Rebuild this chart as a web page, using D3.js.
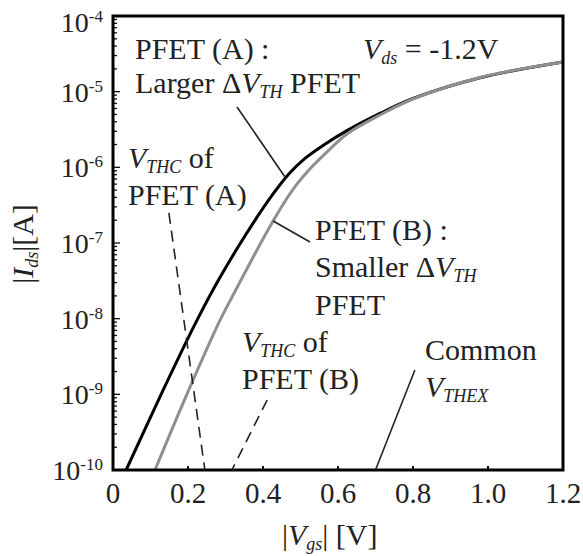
<!DOCTYPE html>
<html>
<head>
<meta charset="utf-8">
<script src="https://cdn.jsdelivr.net/npm/d3@7"></script>
<style>
  body { margin: 0; background: #fff; }
  svg text { font-family: "Liberation Serif", Tinos, "Times New Roman", Times, "DejaVu Serif", serif; fill: #222; }
</style>
</head>
<body>
<svg id="chart" width="583" height="556"></svg>
<script>
// |Vgs| sweep points [V] and drain current |Ids| [A] for each device
const vgsA = [0.035, 0.128, 0.216, 0.272, 0.331, 0.379, 0.424, 0.467, 0.512, 0.565, 0.624, 0.712, 0.80, 0.979, 1.20];
const idsA = [1.0e-10, 9.9e-10, 7.96e-9, 2.68e-8, 8.45e-8, 2.01e-7, 4.25e-7, 8.0e-7, 1.31e-6, 2.02e-6, 3.06e-6, 5.16e-6, 8.13e-6, 1.53e-5, 2.47e-5];
const vgsB = [0.112, 0.197, 0.283, 0.333, 0.384, 0.427, 0.461, 0.491, 0.525, 0.573, 0.624, 0.712, 0.80, 0.979, 1.20];
const idsB = [1.0e-10, 1.0e-9, 9.0e-9, 2.70e-8, 8.1e-8, 1.95e-7, 3.70e-7, 6.03e-7, 9.5e-7, 1.64e-6, 2.76e-6, 4.92e-6, 8.0e-6, 1.54e-5, 2.47e-5];

// Threshold markers on the |Vgs| axis [V]
const vthcA = 0.245;
const vthcB = 0.317;
const vthex = 0.70;

// Axis ticks
const xTicks = [0, 0.2, 0.4, 0.6, 0.8, 1.0, 1.2];
const xTickLabels = ["0", "0.2", "0.4", "0.6", "0.8", "1.0", "1.2"];
const yExponents = [-4, -5, -6, -7, -8, -9, -10];

const svg = d3.select("#chart");
const plotL = 113, plotR = 563, plotT = 16, plotB = 470;

const x = d3.scaleLinear().domain([0, 1.2]).range([plotL, plotR]);
const y = d3.scaleLog().domain([1e-10, 1e-4]).range([plotB, plotT]);

// Minor and major ticks on the left axis (drawn inward)
const yTickG = svg.append("g");
for (let e = -10; e < -4; e++) {
  for (let m = 1; m < 10; m++) {
    const v = m * Math.pow(10, e);
    yTickG.append("line")
      .attr("x1", plotL).attr("x2", plotL + (m === 1 ? 7 : 4))
      .attr("y1", y(v)).attr("y2", y(v))
      .attr("stroke", "#111").attr("stroke-width", 1.3);
  }
}
// Ticks on the bottom axis (drawn inward)
svg.append("g").selectAll("line").data(xTicks.slice(1, -1)).join("line")
  .attr("x1", d => x(d)).attr("x2", d => x(d))
  .attr("y1", plotB).attr("y2", plotB - 4)
  .attr("stroke", "#111").attr("stroke-width", 2);

// Y tick labels: 10^n (the topmost one sits a little lower to stay inside the view)
const yl = svg.append("g").selectAll("text").data(yExponents).join("text")
  .attr("x", 103).attr("y", d => y(Math.pow(10, d)) + (d === -4 ? 16 : 10))
  .attr("text-anchor", "end")
  .style("font-size", "28px");
yl.append("tspan").text("10");
yl.append("tspan").attr("dy", -10).style("font-size", "17px").text(d => String(d));

// X tick labels
svg.append("g").selectAll("text").data(xTicks).join("text")
  .attr("x", d => x(d)).attr("y", 503)
  .attr("text-anchor", "middle")
  .style("font-size", "29px")
  .text((d, i) => xTickLabels[i]);

// Curves
const line = d3.line()
  .x(d => x(d[0])).y(d => y(d[1]))
  .curve(d3.curveCatmullRom.alpha(0.5));

svg.append("path")
  .datum(vgsA.map((v, i) => [v, idsA[i]]))
  .attr("d", line).attr("fill", "none")
  .attr("stroke", "#000").attr("stroke-width", 3);
svg.append("path")
  .datum(vgsB.map((v, i) => [v, idsB[i]]))
  .attr("d", line).attr("fill", "none")
  .attr("stroke", "#8f8f8f").attr("stroke-width", 3);

// Plot frame
svg.append("rect")
  .attr("x", plotL).attr("y", plotT)
  .attr("width", plotR - plotL).attr("height", plotB - plotT)
  .attr("fill", "none").attr("stroke", "#000").attr("stroke-width", 3);

// Leader / marker lines
const lead = (x1, y1, x2, y2, dashed) => svg.append("line")
  .attr("x1", x1).attr("y1", y1).attr("x2", x2).attr("y2", y2)
  .attr("stroke", "#222").attr("stroke-width", 1.6)
  .attr("stroke-dasharray", dashed ? "11,7" : null);

lead(x(0.149), y(2.5e-7), x(vthcA), y(1e-10), true);
lead(x(0.411), y(8.4e-10), x(vthcB), y(1e-10), true);
lead(x(0.805), y(2.1e-9), x(vthex), y(1e-10), false);
lead(237, 107, x(0.46), y(7.3e-7), false);
lead(x(0.427), y(1.95e-7), 310, 242, false);

// Text helper: parts = [[text, italic, sub]]
function rich(xp, yp, parts, size = 30) {
  const t = svg.append("text").attr("x", xp).attr("y", yp).style("font-size", size + "px");
  let shifted = false;
  parts.forEach(([s, it, sub]) => {
    const sp = t.append("tspan").text(s);
    if (it) sp.style("font-style", "italic");
    if (sub && !shifted) { sp.attr("dy", 5).style("font-size", "18px"); shifted = true; }
    else if (sub) { sp.style("font-size", "18px"); }
    else if (!sub && shifted) { sp.attr("dy", -5); shifted = false; }
  });
  return t;
}

rich(135, 59, [["PFET (A) :"]]);
rich(363, 59, [["V", true], ["ds", true, true], [" = -1.2V"]]);
rich(135, 93, [["Larger \u0394"], ["V", true], ["TH", true, true], [" PFET"]]);

rich(128, 168, [["V", true], ["THC", true, true], [" of"]]);
rich(128, 205, [["PFET (A)"]]);

rich(315, 240, [["PFET (B) :"]]);
rich(315, 277, [["Smaller \u0394"], ["V", true], ["TH", true, true]]);
rich(315, 315, [["PFET"]]);

rich(242, 352, [["V", true], ["THC", true, true], [" of"]]);
rich(242, 389, [["PFET (B)"]]);

rich(425, 360, [["Common"]]);
rich(425, 397, [["V", true], ["THEX", true, true]]);

// Axis titles
rich(282, 545, [["|"], ["V", true], ["gs", true, true], ["| [V]"]]);
const yt = svg.append("text")
  .attr("transform", "translate(33,244) rotate(-90)")
  .attr("text-anchor", "middle")
  .style("font-size", "30px");
yt.append("tspan").text("|");
yt.append("tspan").style("font-style", "italic").text("I");
yt.append("tspan").style("font-style", "italic").style("font-size", "18px").attr("dy", 5).text("ds");
yt.append("tspan").attr("dy", -5).text("|[A]");
</script>
</body>
</html>
